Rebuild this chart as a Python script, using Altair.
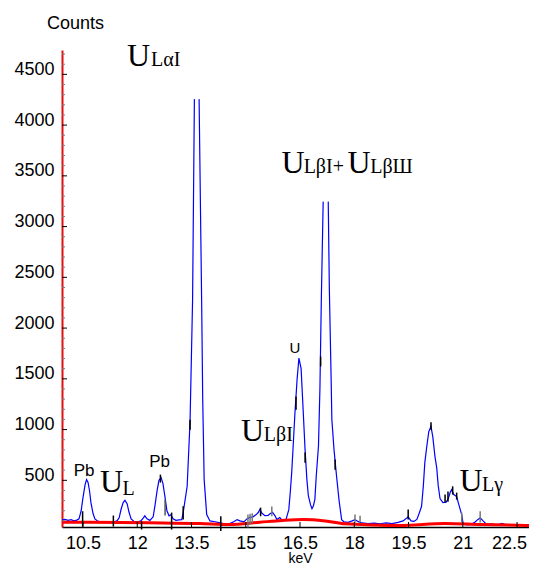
import altair as alt
import pandas as pd

# ---- spectrum (blue) ----
energy = [9.92, 10.00, 10.09, 10.17, 10.25, 10.33, 10.39, 10.45, 10.50, 10.56, 10.60, 10.64, 10.68, 10.72,
          10.78, 10.83, 10.92, 11.03, 11.14, 11.25, 11.36, 11.44, 11.50, 11.55, 11.61, 11.66, 11.72, 11.77,
          11.83, 11.91, 12.02, 12.10, 12.17, 12.21, 12.27, 12.35, 12.44, 12.49, 12.55, 12.60, 12.66, 12.71,
          12.77, 12.82, 12.88, 12.93, 12.99, 13.07, 13.16, 13.23, 13.27, 13.38, 13.46, 13.53, 13.58,
          13.71, 13.78, 13.81, 13.85, 13.92, 14.01, 14.15, 14.29, 14.43, 14.56, 14.68, 14.76, 14.84, 14.95,
          15.03, 15.12, 15.20, 15.28, 15.34, 15.39, 15.45, 15.53, 15.62, 15.67, 15.74, 15.81, 15.86, 15.94,
          16.03, 16.11, 16.19, 16.23, 16.27, 16.32, 16.36, 16.42, 16.47, 16.53, 16.59, 16.64, 16.69, 16.73,
          16.79, 16.83, 16.87, 16.91, 16.95, 17.01, 17.05, 17.09, 17.14,
          17.28, 17.31, 17.36, 17.38, 17.44, 17.51, 17.58, 17.65, 17.72, 17.83, 17.94, 18.02, 18.10, 18.21,
          18.38, 18.55, 18.71, 18.88, 19.04, 19.21, 19.35, 19.49, 19.57, 19.65, 19.73, 19.80, 19.86, 19.91,
          19.95, 20.01, 20.06, 20.12, 20.17, 20.23, 20.28, 20.32, 20.37, 20.45, 20.54, 20.60, 20.65, 20.69,
          20.75, 20.83, 20.89, 20.97, 21.01, 21.11, 21.23, 21.34, 21.42, 21.48, 21.56, 21.66, 21.81, 21.95,
          22.08, 22.20, 22.36, 22.53, 22.69, 22.86, 23.03]
counts = [110, 115, 105, 112, 100, 108, 120, 200, 330, 460, 507, 480, 400, 280,
          170, 120, 95, 88, 92, 85, 90, 100, 130, 210, 280, 303, 270, 190,
          120, 95, 92, 100, 130, 150, 120, 105, 140, 250, 400, 500, 526, 470,
          330, 200, 150, 160, 120, 105, 110, 113, 182, 441, 1080, 2280, 4256,
          4256, 2280, 1300, 507, 162, 100, 92, 80, 72, 74, 95, 113, 100, 90,
          120, 135, 140, 160, 180, 212, 175, 152, 155, 170, 185, 150, 113, 133,
          98, 110, 211, 380, 576, 900, 1166, 1500, 1705, 1600, 1166, 800, 507, 350,
          260, 220, 250, 310, 550, 835, 1400, 2300, 3246,
          3246, 2400, 1500, 1100, 800, 540, 300, 113, 90, 85, 100, 113, 95, 80,
          74, 78, 72, 80, 74, 85, 100, 140, 100, 95, 115, 180, 244, 450,
          674, 850, 980, 1031, 930, 736, 620, 450, 320, 280, 285, 320, 380, 408,
          360, 340, 260, 162, 70, 60, 65, 90, 115, 130, 100, 65, 70, 60,
          75, 62, 58, 62, 56, 58, 55]
# energies where the displayed curve is cut off at the top (start, end of gap)
clip_gaps = [(13.58, 13.71), (17.14, 17.28)]

# ---- background (red) ----
bg_energy = [9.92, 12.35, 13.74, 14.56, 15.39, 16.00, 16.58, 17.20, 17.74, 19.26, 20.51, 21.48, 23.05]
bg_counts = [87, 81, 74, 64, 87, 104, 113, 100, 71, 54, 74, 64, 54]

# ---- black / grey peak markers ----
mk_energy = [10.49, 11.34, 12.12, 12.64, 12.77, 12.95, 13.27, 13.46, 14.31, 15.06, 15.12, 15.18, 15.41,
             15.72, 16.39, 16.64, 17.07, 17.47, 18.02, 18.16, 19.49, 20.12, 20.51, 20.59, 20.72, 20.83,
             20.97, 21.48]
mk_lo = [44, 44, 15, 477, 153, 15, 113, 999, 0, 34, 60, 80, 146,
         146, 1196, 674, 1622, 605, 84, 84, 113, 999, 281, 290, 359, 310,
         84, 84]
mk_hi = [195, 153, 96, 556, 310, 182, 244, 1097, 146, 162, 170, 175, 231,
         241, 1327, 773, 1720, 704, 162, 150, 212, 1071, 359, 389, 441, 379,
         182, 195]
mk_color = ["black", "black", "black", "black", "#555555", "black", "black", "black", "black", "#777777",
            "#777777", "#777777", "black", "#777777", "black", "black", "black", "black", "#777777",
            "#777777", "black", "black", "black", "black", "black", "black", "#777777", "#777777"]

# ---- annotations ----
serif_text = ["U", "LαI", "U", "LβI+", "U", "LβШ", "U", "LβI", "U", "L", "U", "Lγ"]
serif_energy = [11.72, 12.38, 15.99, 16.60, 17.81, 18.44, 14.87, 15.50, 10.97, 11.59, 20.91, 21.53]
serif_counts = [4582, 4582, 3529, 3529, 3529, 3529, 891, 891, 389, 359, 392, 392]
serif_size = [32, 20, 32, 20, 32, 20, 32, 20, 32, 20, 32, 20]

sans_text = ["Pb", "Pb", "U"]
sans_energy = [10.53, 12.62, 16.36]
sans_counts = [539, 632, 1757]
sans_size = [17, 17, 15]

# ---- axes ----
x_labels = [10.5, 12, 13.5, 15, 16.5, 18, 19.5, 21, 22.5]
y_labels = [500, 1000, 1500, 2000, 2500, 3000, 3500, 4000, 4500]
y_minor = [v for v in range(100, 4800, 100) if v % 500 != 0]

x_domain = [9.92, 22.83]
y_domain = [40, 4740]

W, H = 467, 477
SANS = "Liberation Sans"
SERIF = "Liberation Serif"

xs = alt.Scale(domain=x_domain, nice=False, zero=False)
ys = alt.Scale(domain=y_domain, nice=False, zero=False)
xaxis = alt.Axis(values=x_labels, format=".1~f", ticks=False, grid=False, domainColor="black", domainWidth=1.5,
                 labelFont=SANS, labelFontSize=18, labelColor="black", labelPadding=7, labelFlush=False,
                 labelOverlap=False,
                 labelOffset={"condition": {"test": "datum.value > 22", "value": -8}, "value": 0},
                 title="keV", titleFont=SANS, titleFontSize=14, titleFontWeight="normal", titleColor="black",
                 titleX=238, titleY=35.5, titleAlign="center", titleBaseline="alphabetic")
yaxis = alt.Axis(values=y_labels, format="d", ticks=False, grid=False, domainColor="#e01010", domainWidth=2,
                 labelFont=SANS, labelFontSize=18, labelColor="black", labelPadding=8, labelOffset=-5,
                 labelOverlap=False,
                 title="Counts", titleFont=SANS, titleFontSize=18, titleFontWeight="normal",
                 titleColor="black", titleAngle=0, titleX=13, titleY=-22, titleAlign="center",
                 titleBaseline="alphabetic")


def X(f):
    return alt.X(f, type="quantitative", scale=xs, axis=xaxis)


def Y(f):
    return alt.Y(f, type="quantitative", scale=ys, axis=yaxis)


seg = [sum(1 for g in clip_gaps if e >= g[1]) for e in energy]
spec = pd.DataFrame({"E": energy, "C": counts, "seg": seg})
bg = pd.DataFrame({"E": bg_energy, "C": bg_counts})
mk = pd.DataFrame({"E": mk_energy, "lo": mk_lo, "hi": mk_hi, "col": mk_color})
st = pd.DataFrame({"t": serif_text, "E": serif_energy, "C": serif_counts, "s": serif_size})
ss = pd.DataFrame({"t": sans_text, "E": sans_energy, "C": sans_counts, "s": sans_size})
ymaj = pd.DataFrame({"v": y_labels})
ymin = pd.DataFrame({"v": y_minor})
xmaj = pd.DataFrame({"E": x_labels})

blue = alt.Chart(spec).mark_line(color="#0000ff", strokeWidth=1.2, clip=True).encode(
    x=X("E"), y=Y("C"), detail="seg:N")
red = alt.Chart(bg).mark_line(color="#ff0000", strokeWidth=3, interpolate="monotone", clip=True).encode(
    x=X("E"), y=Y("C"))
markers = alt.Chart(mk).mark_rule(strokeWidth=1.5).encode(
    x=X("E"), y=Y("lo"), y2="hi", color=alt.Color("col:N", scale=None))
ytick_major = alt.Chart(ymaj).mark_rule(color="black", strokeWidth=1).encode(
    y=Y("v"), x=alt.value(0), x2=alt.value(5))
ytick_minor = alt.Chart(ymin).mark_rule(color="#777777", strokeWidth=1).encode(
    y=Y("v"), x=alt.value(0), x2=alt.value(3))
xtick = alt.Chart(xmaj).mark_rule(color="black", strokeWidth=1).encode(
    x=X("E"), y=alt.value(H - 5), y2=alt.value(H))
serif = alt.Chart(st).mark_text(font=SERIF, align="left", baseline="alphabetic", color="black").encode(
    x=X("E"), y=Y("C"), text="t:N", size=alt.Size("s:Q", scale=None))
sans = alt.Chart(ss).mark_text(font=SANS, align="center", baseline="alphabetic", color="black").encode(
    x=X("E"), y=Y("C"), text="t:N", size=alt.Size("s:Q", scale=None))

chart = alt.layer(blue, red, markers, ytick_minor, ytick_major, xtick, serif, sans).properties(
    width=W, height=H,
    padding={"left": 54, "top": 42, "right": 0, "bottom": 39},
    autosize=alt.AutoSizeParams(type="none"),
    background="white",
).configure_view(stroke=None)

chart.save("out.html", embed_options={"renderer": "svg", "actions": False})
